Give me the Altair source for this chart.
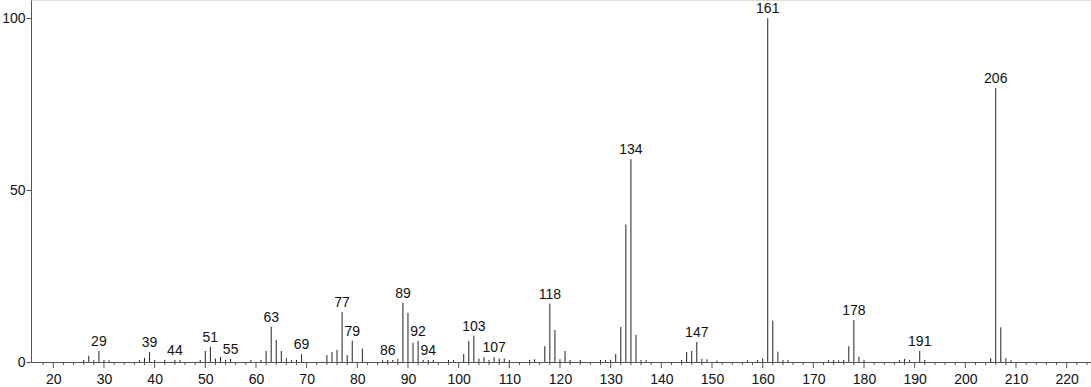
import altair as alt
import pandas as pd

mz = [26, 27, 28, 29, 30, 31, 37, 38, 39, 40, 42, 44, 45, 49, 50, 51, 52, 53, 54, 55,
      59, 61, 62, 63, 64, 65, 66, 67, 68, 69, 74, 75, 76, 77, 78, 79, 81, 85, 86, 87,
      88, 89, 90, 91, 92, 93, 94, 95, 98, 99, 101, 102, 103, 104, 105, 106, 107, 108, 109, 110,
      114, 115, 117, 118, 119, 120, 121, 122, 124, 128, 129, 130, 131, 132, 133, 134, 135, 136, 137, 144,
      145, 146, 147, 148, 149, 151, 157, 159, 160, 161, 162, 163, 164, 165, 173, 174, 175, 176, 177, 178,
      179, 180, 187, 188, 189, 191, 192, 205, 206, 207, 208, 209]
intensity = [0.6, 1.8, 0.6, 3.2, 0.6, 0.5, 0.6, 1.2, 2.9, 0.6, 0.6, 0.6, 0.6, 0.6, 3.2, 4.5, 1.0, 1.5, 0.6, 0.9,
             0.6, 0.6, 3.2, 10.3, 6.4, 3.2, 1.1, 0.6, 0.6, 2.3, 2.0, 2.9, 3.5, 14.5, 2.0, 6.2, 3.9, 0.5, 0.6, 0.6,
             0.9, 17.3, 14.3, 5.6, 6.1, 0.6, 0.6, 0.6, 0.6, 0.6, 2.3, 6.1, 7.7, 1.0, 1.4, 0.6, 1.4, 1.0, 1.0, 0.6,
             0.6, 0.8, 4.6, 17.0, 9.3, 0.8, 3.2, 0.6, 0.6, 0.6, 0.6, 0.6, 2.3, 10.2, 40.0, 59.0, 7.9, 0.6, 0.6, 0.6,
             2.9, 3.2, 5.8, 0.9, 0.8, 0.4, 0.5, 0.6, 1.1, 100.0, 12.0, 3.0, 0.6, 0.6, 0.6, 0.6, 0.5, 0.6, 4.6, 12.2,
             1.5, 0.6, 0.6, 0.9, 0.6, 3.2, 0.6, 1.1, 79.7, 10.1, 1.1, 0.5]
labeled = [29, 39, 44, 51, 55, 63, 69, 77, 79, 86, 89, 92, 94, 103, 107, 118, 134, 147, 161, 178, 191, 206]
major_ticks = list(range(20, 221, 10))
minor_ticks = [v for v in range(18, 225, 2) if v % 10 != 0]
y_ticks = [0, 50, 100]

df = pd.DataFrame({"mz": mz, "intensity": intensity})
df["base"] = 0
lab = df[df["mz"].isin(labeled)]
minor_df = pd.DataFrame({"mz": minor_ticks})
major_df = pd.DataFrame({"mz": major_ticks})

FONT = "Liberation Sans"
H = 362
x_scale = alt.Scale(domain=[15.6, 224.8], nice=False, zero=False)
y_scale = alt.Scale(domain=[0, 105.3], nice=False)

x_axis = alt.Axis(
    values=major_ticks, grid=False, title=None, ticks=False, labelFontSize=14, labelFont=FONT,
    labelColor="#111", domainColor="#555", labelPadding=10, labelOverlap=False,
)
y_axis = alt.Axis(
    values=y_ticks, grid=False, title=None, tickSize=5, labelFontSize=14, labelFont=FONT,
    labelColor="#111", domainColor="#555", tickColor="#555", labelPadding=1,
)

bars = alt.Chart(df).mark_rule(color="#222", strokeWidth=1).encode(
    x=alt.X("mz:Q", scale=x_scale, axis=x_axis),
    y=alt.Y("intensity:Q", scale=y_scale, axis=y_axis),
    y2="base:Q",
)
minor = alt.Chart(minor_df).mark_rule(color="#555", strokeWidth=1).encode(
    x=alt.X("mz:Q", scale=x_scale),
    y=alt.value(H),
    y2=alt.value(H + 3),
)
major = alt.Chart(major_df).mark_rule(color="#555", strokeWidth=1).encode(
    x=alt.X("mz:Q", scale=x_scale),
    y=alt.value(H),
    y2=alt.value(H + 6),
)
texts = alt.Chart(lab).mark_text(
    baseline="alphabetic", align="center", dy=-5, fontSize=14, font=FONT, color="#111"
).encode(
    x=alt.X("mz:Q", scale=x_scale),
    y=alt.Y("intensity:Q", scale=y_scale),
    text=alt.Text("mz:Q", format="d"),
)

chart = alt.layer(bars, minor, major, texts).properties(
    width=1060, height=H,
    padding={"left": 31, "top": 0, "right": 0, "bottom": 25},
    autosize=alt.AutoSizeParams(type="none"),
).configure_view(stroke=None).configure(background="white")

chart.save("out.html", embed_options={"renderer": "svg", "actions": False})
